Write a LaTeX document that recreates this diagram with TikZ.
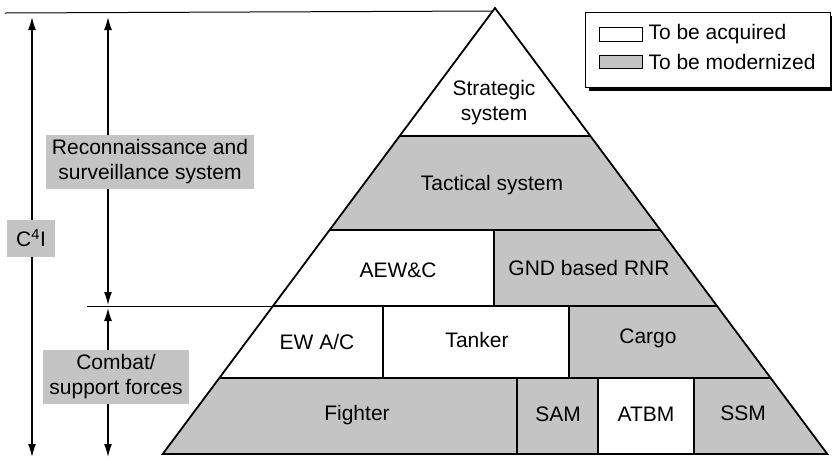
\documentclass[tikz,border=0pt]{standalone}
\usepackage{fontspec}
\setmainfont{Liberation Sans}
\usetikzlibrary{arrows.meta}

\tikzset{
  modern/.style={fill=black!23},
  tier/.style={font=\fontsize{21}{25}\selectfont, align=center},
  sidelabel/.style={fill=black!23, font=\fontsize{21}{25}\selectfont, align=center, inner xsep=6pt, inner ysep=5pt},
  span/.style={line width=1.3pt, {Latex[length=13pt,width=8pt]}-{Latex[length=13pt,width=8pt]}},
}

\begin{document}
\begin{tikzpicture}[x=1pt,y=-1pt]
        \useasboundingbox (0,0) rectangle (832,459);

        % Fill the tiers, clipped to the pyramid
        \begin{scope}
          \clip (495,8) -- (827.3,454) -- (162.7,454) -- cycle;
          \fill[modern] (0,136) rectangle (832,230);
          \fill[modern] (494,230) rectangle (832,306);
          \fill[modern] (569,306) rectangle (832,378);
          \fill[modern] (0,378) rectangle (598,454);
          \fill[modern] (694,378) rectangle (832,454);
          \foreach \y in {136,230,306,378}
              \draw[line width=1.3pt] (0,\y) -- (832,\y);
          \foreach \x/\ya/\yb in {494/230/306, 383/306/378, 569/306/378, 517/378/454, 598/378/454, 694/378/454}
              \draw[line width=1.3pt] (\x,\ya) -- (\x,\yb);
        \end{scope}

        % Draw the pyramid outline
        \draw[line width=1.8pt, line join=miter] (495,8) -- (827.3,454) -- (162.7,454) -- cycle;

        % Draw the level lines on the left
        \draw[line width=1pt] (5,13) -- (492,11);
        \draw[line width=1pt] (87,306) -- (273,306);

        % Tier labels
        \node[tier] (strategic) at (494,103) {Strategic\\system};
        \node[tier] (tactical) at (492,185) {Tactical system};
        \node[tier] (aewc) at (398,270) {AEW\&C};
        \node[tier] (gnd) at (589,268) {GND based RNR};
        \node[tier] (ewac) at (317,342) {EW A/C};
        \node[tier] (tanker) at (477,340) {Tanker};
        \node[tier] (cargo) at (648,338) {Cargo};
        \node[tier] (fighter) at (357,415) {Fighter};
        \node[tier] (sam) at (558,414) {SAM};
        \node[tier] (atbm) at (646,414) {ATBM};
        \node[tier] (ssm) at (743,413) {SSM};

        % Span arrows
        \coordinate (c4top) at (32,17);
        \coordinate (c4bot) at (32,457);
        \coordinate (rstop) at (108,17);
        \coordinate (rsbot) at (108,305);
        \coordinate (cbtop) at (108,308);
        \coordinate (cbbot) at (108,457);
        \draw[span] (c4top) -- (c4bot);
        \draw[span] (rstop) -- (rsbot);
        \draw[span] (cbtop) -- (cbbot);

        \node[sidelabel, minimum width=48pt, minimum height=37pt] (c4i) at (31,238) {C\textsuperscript{4}I};
        \node[sidelabel] (recon) at (150,162) {Reconnaissance and\\surveillance system};
        \node[sidelabel] (combat) at (116,377) {Combat/\\support forces};

        % Legend
        \fill (589,16) rectangle (832,91);
        \draw[fill=white, line width=1pt] (585,12) rectangle (830,87);
        \draw[line width=0.8pt] (599,27) rectangle (642,41);
        \draw[line width=0.8pt, modern] (599,55) rectangle (642,68);
        \node[tier, anchor=west] (acquired) at (645,34) {To be acquired};
        \node[tier, anchor=west] (modernized) at (645,62) {To be modernized};
\end{tikzpicture}
\end{document}
